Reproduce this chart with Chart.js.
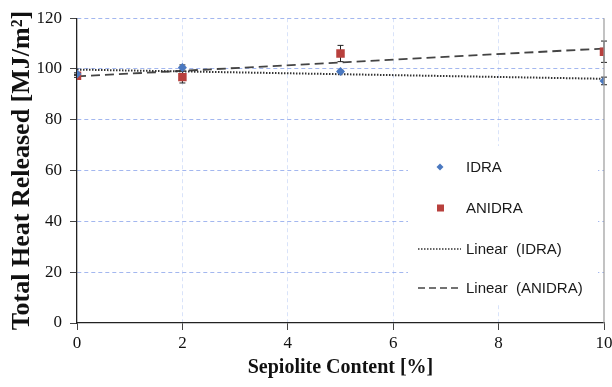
<!DOCTYPE html>
<html>
<head>
<meta charset="utf-8">
<script src="https://cdn.jsdelivr.net/npm/chart.js@4.4.1/dist/chart.umd.min.js"></script>
<style>
  html, body { margin: 0; padding: 0; background: #ffffff; }
  #wrap { width: 612px; height: 387px; }
</style>
</head>
<body>
<div id="wrap"><canvas id="c" width="612" height="387"></canvas></div>
<script>
// Sepiolite content (%) of each formulation
const sepiolite = [0, 2, 5, 10];
// Total heat released (MJ/m2) and standard deviations
const idra = [98, 100.6, 99, 95.3];
const idraErr = [0.5, 1.0, 0.5, 1.5];
const anidra = [97.3, 96.8, 106.1, 106.8];
const anidraErr = [0.6, 2.3, 3.2, 4.2];
const seriesNames = ['IDRA', 'ANIDRA', 'Linear  (IDRA)', 'Linear  (ANIDRA)'];
const xRange = [0, 10];
const yRange = [0, 120];

const BLUE = '#4a78c0';
const RED = '#b8403d';

// least-squares trend line through a series
function linearFit(xs, ys) {
  const n = xs.length;
  const mx = xs.reduce((a, b) => a + b, 0) / n;
  const my = ys.reduce((a, b) => a + b, 0) / n;
  let sxy = 0, sxx = 0;
  for (let i = 0; i < n; i++) {
    sxy += (xs[i] - mx) * (ys[i] - my);
    sxx += (xs[i] - mx) * (xs[i] - mx);
  }
  const b = sxy / sxx;
  const a = my - b * mx;
  return xRange.map(x => ({ x: x, y: a + b * x }));
}

const pts = ys => sepiolite.map((x, i) => ({ x: x, y: ys[i] }));

// vertical error bars with caps
const errorBars = {
  id: 'errorBars',
  beforeDatasetsDraw(chart) {
    const { ctx, scales: { x, y } } = chart;
    const sets = [[idra, idraErr], [anidra, anidraErr]];
    ctx.save();
    ctx.strokeStyle = '#222';
    ctx.lineWidth = 1;
    sets.forEach(([vals, errs]) => {
      vals.forEach((v, i) => {
        const px = x.getPixelForValue(sepiolite[i]);
        const top = y.getPixelForValue(v + errs[i]);
        const bot = y.getPixelForValue(v - errs[i]);
        ctx.beginPath();
        ctx.moveTo(px, top); ctx.lineTo(px, bot);
        ctx.moveTo(px - 3, top); ctx.lineTo(px + 3, top);
        ctx.moveTo(px - 3, bot); ctx.lineTo(px + 3, bot);
        ctx.stroke();
      });
    });
    ctx.restore();
  }
};

// right-hand frame line of the plot area
const frameRight = {
  id: 'frameRight',
  afterDatasetsDraw(chart) {
    const { ctx, chartArea: a } = chart;
    ctx.save();
    ctx.strokeStyle = '#9a9a9a';
    ctx.lineWidth = 1.2;
    ctx.beginPath();
    ctx.moveTo(a.right, a.top);
    ctx.lineTo(a.right, a.bottom);
    ctx.stroke();
    ctx.restore();
  }
};

// legend boxed inside the plot area
const insideLegend = {
  id: 'insideLegend',
  afterDraw(chart) {
    const { ctx } = chart;
    ctx.save();
    ctx.fillStyle = '#ffffff';
    ctx.fillRect(408, 146, 190, 158);
    ctx.font = '15px "Liberation Sans", Arial, sans-serif';
    ctx.textBaseline = 'middle';
    const rows = [167, 208, 249, 288];
    const tx = 466;
    // diamond marker
    ctx.fillStyle = BLUE;
    ctx.beginPath();
    ctx.moveTo(440, rows[0] - 3.5); ctx.lineTo(443.5, rows[0]);
    ctx.lineTo(440, rows[0] + 3.5); ctx.lineTo(436.5, rows[0]);
    ctx.closePath(); ctx.fill();
    // square marker
    ctx.fillStyle = RED;
    ctx.fillRect(437, rows[1] - 3.5, 7, 7);
    // line samples
    ctx.strokeStyle = '#333';
    ctx.lineWidth = 1.6;
    ctx.setLineDash([1.5, 1.5]);
    ctx.beginPath(); ctx.moveTo(418, rows[2]); ctx.lineTo(461, rows[2]); ctx.stroke();
    ctx.setLineDash([7, 4]);
    ctx.strokeStyle = '#444';
    ctx.beginPath(); ctx.moveTo(418, rows[3]); ctx.lineTo(461, rows[3]); ctx.stroke();
    ctx.setLineDash([]);
    ctx.fillStyle = '#1a1a1a';
    seriesNames.forEach((t, i) => ctx.fillText(t, tx, rows[i] + 1));
    ctx.restore();
  }
};

const serifTick = { family: '"Liberation Serif", "Times New Roman", serif', size: 17 };
const serifTitle = { family: '"Liberation Serif", "Times New Roman", serif', size: 20, weight: 'bold' };
const serifTitleY = { family: '"Liberation Serif", "Times New Roman", serif', size: 26, weight: 'bold' };

new Chart(document.getElementById('c'), {
  type: 'scatter',
  data: {
    datasets: [
      {
        label: seriesNames[2], type: 'line', data: linearFit(sepiolite, idra),
        borderColor: '#333', borderWidth: 2, borderDash: [1.5, 1.5],
        pointRadius: 0, fill: false, order: 2
      },
      {
        label: seriesNames[3], type: 'line', data: linearFit(sepiolite, anidra),
        borderColor: '#444', borderWidth: 1.8, borderDash: [9, 5],
        pointRadius: 0, fill: false, order: 2
      },
      {
        label: seriesNames[0], data: pts(idra),
        pointStyle: 'rectRot', pointRadius: 4.5,
        backgroundColor: BLUE, borderColor: BLUE, borderWidth: 0, order: 1
      },
      {
        label: seriesNames[1], data: pts(anidra),
        pointStyle: 'rect', pointRadius: 6,
        backgroundColor: RED, borderColor: RED, borderWidth: 0, order: 1
      }
    ]
  },
  options: {
    responsive: false,
    animation: false,
    devicePixelRatio: 1,
    layout: { padding: { left: 0, right: 0, top: 16, bottom: 0 } },
    plugins: { legend: { display: false }, tooltip: { enabled: false } },
    scales: {
      x: {
        type: 'linear', min: xRange[0], max: xRange[1],
        afterFit: s => { s.height = 64; s.paddingRight = 8; },
        ticks: { stepSize: 2, color: '#111', font: serifTick, padding: 3, maxRotation: 0 },
        grid: {
          color: ctx => (ctx.tick && (ctx.tick.value === 0 || ctx.tick.value === 10)) ? 'rgba(0,0,0,0)' : 'rgba(160,185,240,0.4)',
          lineWidth: 1, tickLength: 7, tickColor: '#444', tickWidth: 1
        },
        border: { display: true, color: '#222', width: 1.3, dash: [4, 3] },
        title: { display: true, text: 'Sepiolite Content [%]', color: '#111', font: serifTitle, padding: { top: 0, bottom: 7 } }
      },
      y: {
        min: yRange[0], max: yRange[1],
        afterFit: s => { s.width = 77; },
        ticks: { stepSize: 20, color: '#111', font: serifTick, padding: 8 },
        grid: {
          color: ctx => (ctx.tick && ctx.tick.value === 0) ? 'rgba(0,0,0,0)' : 'rgba(140,165,235,0.8)',
          lineWidth: 1, tickLength: 7, tickColor: '#444', tickWidth: 1
        },
        border: { display: true, color: '#222', width: 1.3, dash: [4, 3] },
        title: { display: true, text: 'Total Heat Released [MJ/m²]', color: '#111', font: serifTitleY, padding: { top: 7, bottom: 0 } }
      }
    }
  },
  plugins: [errorBars, frameRight, insideLegend]
});
</script>
</body>
</html>
